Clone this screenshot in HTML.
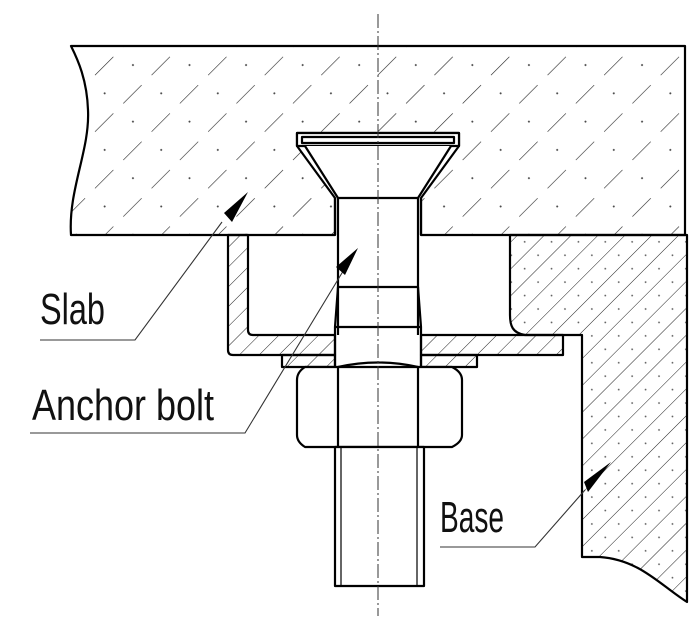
<!DOCTYPE html>
<html><head><meta charset="utf-8"><style>html,body{margin:0;padding:0;background:#fff}svg{display:block}</style></head>
<body>
<svg width="700" height="632" viewBox="0 0 700 632" xmlns="http://www.w3.org/2000/svg">
<defs>
<pattern id="hs" patternUnits="userSpaceOnUse" width="40" height="40" patternTransform="rotate(45)">
<line x1="0" y1="0" x2="0" y2="26" stroke="#222" stroke-width="1.2"/>
<circle cx="20" cy="32" r="1" fill="#444"/>
</pattern>
<pattern id="hb" patternUnits="userSpaceOnUse" width="19" height="19" patternTransform="rotate(45)">
<line x1="0" y1="0" x2="0" y2="19" stroke="#222" stroke-width="1"/>
<circle cx="10" cy="9" r="0.9" fill="#555"/>
</pattern>
<pattern id="hc" patternUnits="userSpaceOnUse" width="14" height="14" patternTransform="rotate(45)">
<line x1="0" y1="0" x2="0" y2="14" stroke="#222" stroke-width="1"/>
</pattern>
</defs>
<g fill="none" stroke="#000" stroke-width="2.2" stroke-linejoin="round">
<!-- slab -->
<path d="M71,46 L685,46 L685,235 L421,235 L421,198 L459,146 L459,133 L297,133 L297,146 L335,198 L335,235 L71,235 C68,190 90,150 88,110 C87,80 78,60 71,46 Z" fill="url(#hs)"/>
<!-- base -->
<path d="M510,235 L687,235 L687,602 C660,585 640,560 600,557 L582,557 L582,335 L525,335 C512,333 510,325 510,315 Z" fill="url(#hb)"/>
<!-- channel -->
<path d="M228,235 L248,235 L248,330 Q248,335 253,335 L335,335 L335,355 L233,355 Q228,355 228,350 Z" fill="url(#hc)"/>
<path d="M421,335 L563,335 L563,355 L421,355 Z" fill="url(#hc)"/>
<!-- washer -->
<rect x="282" y="355" width="53" height="12" fill="url(#hc)"/>
<rect x="421" y="355" width="56" height="12" fill="url(#hc)"/>
<!-- bolt head -->
<rect x="297" y="133" width="162" height="13" fill="#fff"/>
<rect x="302" y="137" width="152" height="6"/>
<path d="M305,146 L338,198 L418,198 L451,146" fill="#fff"/>
<line x1="338" y1="198" x2="338" y2="335"/>
<line x1="418" y1="198" x2="418" y2="335"/>
<line x1="335" y1="198" x2="335" y2="235"/>
<line x1="421" y1="198" x2="421" y2="235"/>
<line x1="338" y1="287" x2="418" y2="287"/>
<line x1="336" y1="327" x2="420" y2="327"/>
<path d="M338,287 L335,327 L335,367 M418,287 L421,327 L421,367"/>
<!-- nut -->
<path d="M305,367 L452,367 Q462,372 462,380 L462,435 Q462,442 452,447 L305,447 Q297,442 297,435 L297,380 Q297,372 305,367 Z" fill="#fff"/>
<path d="M338,367 Q378,358 418,367 M338,447 Q378,456 418,447"/>
<line x1="338" y1="367" x2="338" y2="447"/>
<line x1="418" y1="367" x2="418" y2="447"/>
<!-- lower shank -->
<rect x="335" y="447" width="89" height="139" fill="#fff"/>
<line x1="341" y1="447" x2="341" y2="586" stroke-width="1.2"/>
<line x1="417" y1="447" x2="417" y2="586" stroke-width="1.2"/>
</g>
<!-- centerline -->
<line x1="378" y1="14" x2="378" y2="616" stroke="#333" stroke-width="1" stroke-dasharray="14,3,2,3"/>
<!-- leaders -->
<g stroke="#333" stroke-width="1.1" fill="none">
<polyline points="40,340 135,340 222,222"/>
<polyline points="30,433 245,433 345,268"/>
<polyline points="440,547 535,547 585,490"/>
</g>
<g fill="#000">
<polygon points="248,192 232,222 224,213"/>
<polygon points="358,248 345,275 336,267"/>
<polygon points="611,462 588,492 584,482"/>
</g>
<g font-family="Liberation Sans, sans-serif" font-size="44" fill="#111">
<text x="40" y="324" textLength="65" lengthAdjust="spacingAndGlyphs">Slab</text>
<text x="32" y="420" textLength="182" lengthAdjust="spacingAndGlyphs">Anchor bolt</text>
<text x="440" y="532" textLength="64" lengthAdjust="spacingAndGlyphs">Base</text>
</g>
</svg>
</body></html>
